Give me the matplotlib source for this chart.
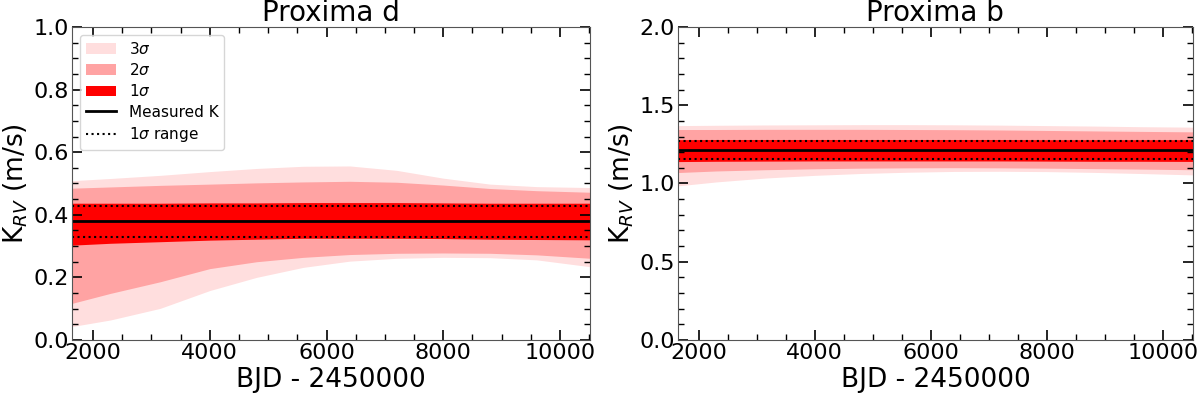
import numpy as np
import matplotlib
matplotlib.use("Agg")
import matplotlib.pyplot as plt
from matplotlib.ticker import MultipleLocator

# time grid (BJD - 2450000)
bjd = [1640, 2300, 3150, 4000, 4800, 5600, 6400, 7200, 8000, 8800, 9600, 10520]

# Proxima d
d_k, d_k_lo, d_k_hi = 0.381, 0.330, 0.429
d_3s_hi = [0.509, 0.516, 0.526, 0.538, 0.548, 0.555, 0.556, 0.542, 0.517, 0.498, 0.490, 0.487]
d_2s_hi = [0.485, 0.489, 0.494, 0.498, 0.502, 0.505, 0.507, 0.504, 0.495, 0.484, 0.477, 0.472]
d_1s_hi = [0.437, 0.437, 0.437, 0.438, 0.438, 0.439, 0.439, 0.439, 0.438, 0.437, 0.437, 0.437]
d_1s_lo = [0.303, 0.309, 0.314, 0.319, 0.322, 0.325, 0.325, 0.325, 0.324, 0.322, 0.321, 0.320]
d_2s_lo = [0.117, 0.149, 0.186, 0.228, 0.250, 0.264, 0.273, 0.277, 0.278, 0.277, 0.272, 0.261]
d_3s_lo = [0.043, 0.064, 0.101, 0.158, 0.200, 0.232, 0.252, 0.261, 0.264, 0.263, 0.256, 0.234]

# Proxima b
b_k, b_k_lo, b_k_hi = 1.213, 1.155, 1.273
b_3s_hi = [1.370, 1.372, 1.374, 1.375, 1.376, 1.376, 1.375, 1.373, 1.370, 1.367, 1.363, 1.360]
b_2s_hi = [1.345, 1.345, 1.346, 1.346, 1.346, 1.345, 1.344, 1.342, 1.339, 1.336, 1.333, 1.330]
b_1s_hi = [1.280, 1.281, 1.281, 1.281, 1.281, 1.281, 1.281, 1.281, 1.280, 1.280, 1.280, 1.280]
b_1s_lo = [1.140, 1.142, 1.143, 1.144, 1.144, 1.144, 1.144, 1.144, 1.143, 1.142, 1.142, 1.141]
b_2s_lo = [1.070, 1.080, 1.088, 1.094, 1.098, 1.100, 1.101, 1.100, 1.098, 1.095, 1.092, 1.088]
b_3s_lo = [0.985, 1.010, 1.035, 1.052, 1.064, 1.072, 1.077, 1.078, 1.076, 1.071, 1.064, 1.055]

C3, C2, C1 = "#ffdede", "#ffa3a3", "#ff0000"


def panel(ax, title, k, klo, khi, s3, s2, s1, ylim, ymaj, ymin):
    ax.fill_between(bjd, s3[0], s3[1], color=C3, lw=0, label=r"3$\sigma$")
    ax.fill_between(bjd, s2[0], s2[1], color=C2, lw=0, label=r"2$\sigma$")
    ax.fill_between(bjd, s1[0], s1[1], color=C1, lw=0, label=r"1$\sigma$")
    ax.axhline(k, color="black", lw=2, label="Measured K")
    ax.axhline(khi, color="black", ls=":", lw=1.5, label=r"1$\sigma$ range")
    ax.axhline(klo, color="black", ls=":", lw=1.5)
    ax.set_xlim(bjd[0], bjd[-1])
    ax.set_ylim(*ylim)
    ax.xaxis.set_major_locator(MultipleLocator(2000))
    ax.xaxis.set_minor_locator(MultipleLocator(500))
    ax.yaxis.set_major_locator(MultipleLocator(ymaj))
    ax.yaxis.set_minor_locator(MultipleLocator(ymin))
    ax.tick_params(which="both", direction="in", top=True, right=True,
                   labelsize=16, pad=2)
    ax.tick_params(which="major", length=7, width=1.2)
    ax.tick_params(which="minor", length=4, width=1)
    for sp in ax.spines.values():
        sp.set_color("#555555")
    ax.set_title(title, fontsize=20, pad=3)
    ax.set_xlabel("BJD - 2450000", fontsize=19, labelpad=3)
    ax.set_ylabel(r"K$_{RV}$ (m/s)", fontsize=19, labelpad=3)


fig = plt.figure(figsize=(12, 3.97), dpi=100)
ax1 = fig.add_axes([0.06, 0.1436, 0.432, 0.7884])
ax2 = fig.add_axes([0.565, 0.1436, 0.429, 0.7884])

panel(ax1, "Proxima d", d_k, d_k_lo, d_k_hi,
      (d_3s_lo, d_3s_hi), (d_2s_lo, d_2s_hi), (d_1s_lo, d_1s_hi),
      (0, 1.0), 0.2, 0.05)
panel(ax2, "Proxima b", b_k, b_k_lo, b_k_hi,
      (b_3s_lo, b_3s_hi), (b_2s_lo, b_2s_hi), (b_1s_lo, b_1s_hi),
      (0, 2.0), 0.5, 0.1)

ax1.legend(loc="upper left", fontsize=11, labelspacing=0.35)

fig.savefig("out.png", dpi=100)
